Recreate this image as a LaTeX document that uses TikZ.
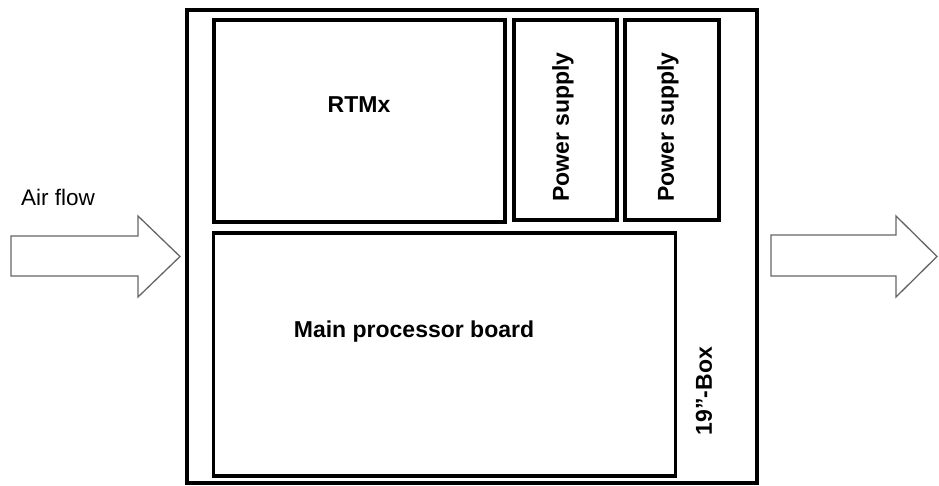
\documentclass[tikz,border=0pt]{standalone}
\usepackage{fontspec}
\setmainfont{Liberation Sans}
\begin{document}
\begin{tikzpicture}[x=1pt,y=-1pt,
  box/.style={draw=black,line width=3.8pt,inner sep=0pt,outer sep=0pt},
  lbl/.style={font=\fontsize{23}{26}\selectfont\bfseries,inner sep=0pt},
  plain/.style={font=\fontsize{22.5}{26}\selectfont,inner sep=0pt},
  flow/.style={draw=black!60,line width=1.3pt,fill=white,line join=miter}]
\useasboundingbox (0,0) rectangle (939,486);
% outer 19" box
\node[box,minimum width=570pt,minimum height=473pt] (outer) at (472,246.5) {};
% inner boxes
\node[box,minimum width=291pt,minimum height=202pt] (rtmx) at (359.5,121) {};
\node[box,minimum width=103pt,minimum height=200pt] (ps1) at (565.5,120) {};
\node[box,minimum width=94pt,minimum height=200pt] (ps2) at (672,120) {};
\node[box,minimum width=462pt,minimum height=243pt] (main) at (444.5,354.5) {};
% labels
\node[lbl] (trtmx) at (359,105) {RTMx};
\node[lbl,rotate=90] (tps1) at (563,127) {Power supply};
\node[lbl,rotate=90] (tps2) at (668,127) {Power supply};
\node[lbl] (tmain) at (414,332) {Main processor board};
\node[lbl,rotate=90] (tbox) at (704,391) {19”-Box};
\node[plain] (tair) at (58,197) {Air flow};
% flow arrows
\draw[flow] (11,236) -- (138,236) -- (138,216) -- (180,256.5) -- (138,297) -- (138,276) -- (11,276) -- cycle;
\draw[flow] (771,235) -- (896,235) -- (896,216) -- (937,256.5) -- (896,297) -- (896,276) -- (771,276) -- cycle;
\end{tikzpicture}
\end{document}
